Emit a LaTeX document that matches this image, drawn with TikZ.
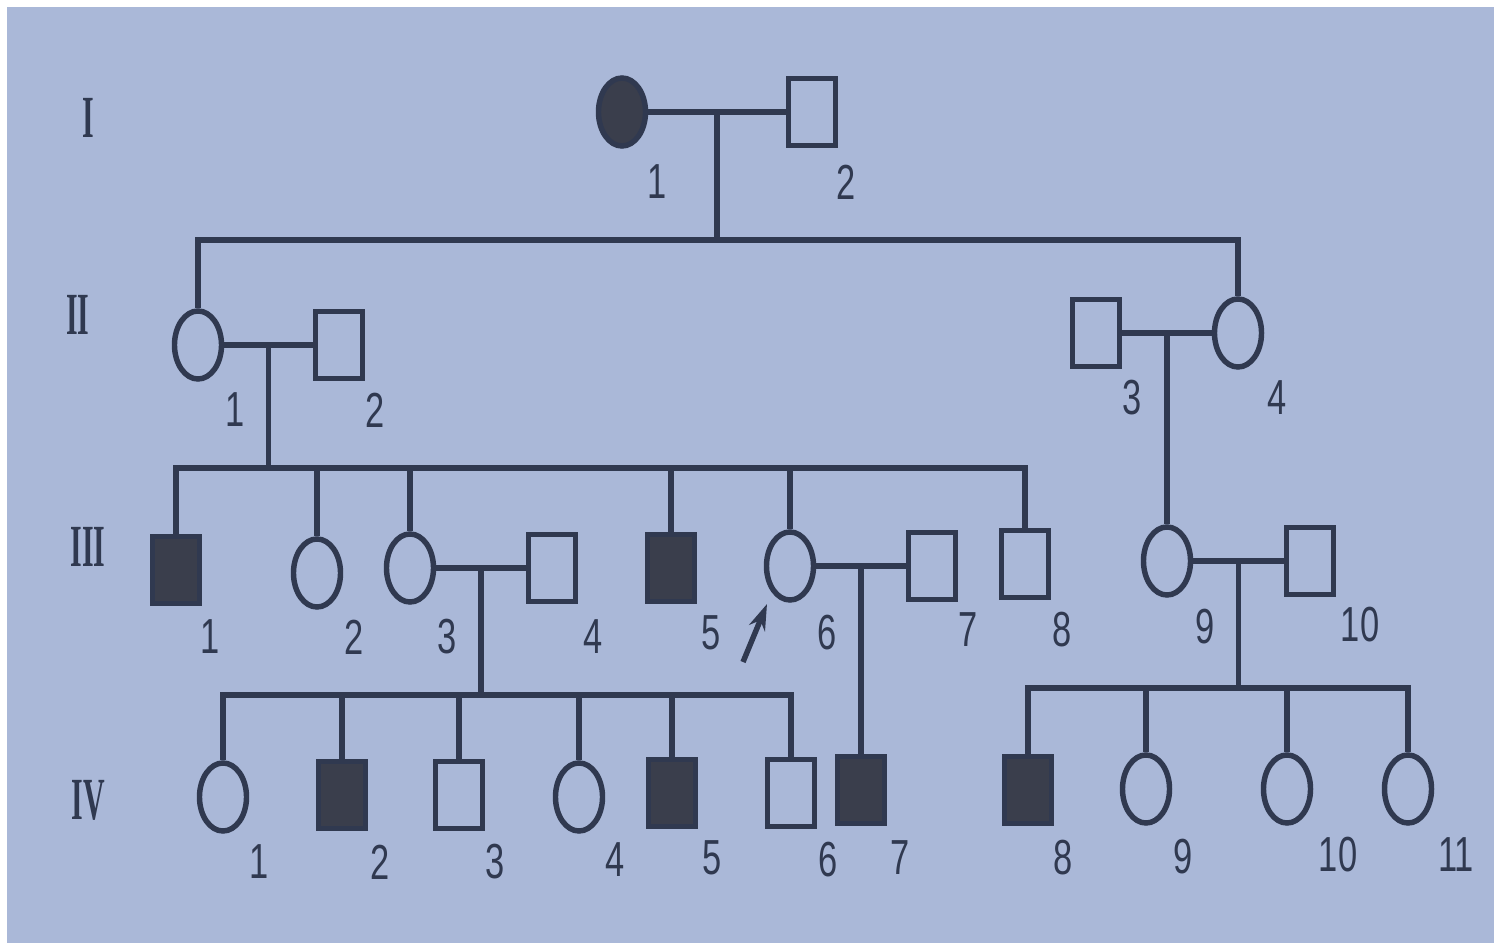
\documentclass[tikz,border=0pt]{standalone}
\usepackage{fontspec}
\usepackage{graphicx}
\setmainfont{Liberation Serif}
\setsansfont{Liberation Sans}
\usetikzlibrary{shapes.geometric,calc,arrows.meta}
\definecolor{bgblue}{RGB}{170,184,216}
\definecolor{ink}{RGB}{48,57,80}
\definecolor{inkfill}{RGB}{58,62,76}
\newcommand\narrowtxt[2]{\scalebox{#1}[1]{#2}}
\begin{document}
\begin{tikzpicture}[x=0.01cm,y=-0.01cm,
  line/.style={draw=ink, line width=1.55pt},
  female/.style={ellipse, draw=ink, line width=1.55pt, minimum width=0.47cm, minimum height=0.68cm, inner sep=0pt},
  male/.style={rectangle, draw=ink, line width=1.55pt, minimum width=0.47cm, minimum height=0.67cm, inner sep=0pt},
  affected/.style={fill=inkfill},
  idlabel/.style={font=\sffamily\fontsize{14}{14}\selectfont, text=ink, inner sep=0pt},
  genlabel/.style={font=\bfseries\fontsize{17}{17}\selectfont, text=ink, inner sep=0pt}]
\useasboundingbox (0,0) rectangle (1494,943);
\fill[white] (0,0) rectangle (1494,943);
\fill[bgblue] (7,7) rectangle (1494,943);

% generation labels
\node[genlabel] (gI) at (88,118) {\narrowtxt{0.5}{I}};
\node[genlabel] (gII) at (78,315) {\narrowtxt{0.5}{II}};
\node[genlabel] (gIII) at (88,547) {\narrowtxt{0.5}{III}};
\node[genlabel] (gIV) at (88,800) {\narrowtxt{0.5}{IV}};

% Generation I
\node[female,affected] (I1) at (622,112) {};
\node[male] (I2) at (812,112) {};
% Generation II
\node[female] (II1) at (198,345) {};
\node[male] (II2) at (339,345) {};
\node[male] (II3) at (1096,333) {};
\node[female] (II4) at (1238,333) {};
% Generation III
\node[male,affected] (III1) at (176,570) {};
\node[female] (III2) at (317,573) {};
\node[female] (III3) at (410,568) {};
\node[male] (III4) at (552,568) {};
\node[male,affected] (III5) at (671,568) {};
\node[female] (III6) at (790,566) {};
\node[male] (III7) at (932,566) {};
\node[male] (III8) at (1025,564) {};
\node[female] (III9) at (1167,561) {};
\node[male] (III10) at (1310,561) {};
% Generation IV
\node[female] (IV1) at (223,797) {};
\node[male,affected] (IV2) at (342,795) {};
\node[male] (IV3) at (459,795) {};
\node[female] (IV4) at (579,797) {};
\node[male,affected] (IV5) at (672,793) {};
\node[male] (IV6) at (791,793) {};
\node[male,affected] (IV7) at (861,790) {};
\node[male,affected] (IV8) at (1028,790) {};
\node[female] (IV9) at (1146,789) {};
\node[female] (IV10) at (1287,789) {};
\node[female] (IV11) at (1408,789) {};

% row coordinates
\coordinate (rowI) at (0,240);
\coordinate (rowII) at (0,468);
\coordinate (rowIIIa) at (0,695);
\coordinate (rowIIIb) at (0,688);

% marriages and descents
\draw[line] (I1.east) -- (I2.west);
\coordinate (mI) at ($(I1.east)!0.5!(I2.west)$);
\draw[line] (mI) -- (mI |- rowI);
\draw[line] (II1.north) |- (II4.north |- rowI) -- (II4.north);

\draw[line] (II1.east) -- (II2.west);
\coordinate (mII) at ($(II1.east)!0.5!(II2.west)$);
\draw[line] (mII) -- (mII |- rowII);
\draw[line] (III1.north) |- (III8.north |- rowII) -- (III8.north);
\foreach \n in {III2,III3,III5,III6} \draw[line] (\n.north) -- (\n.north |- rowII);

\draw[line] (II3.east) -- (II4.west);
\coordinate (mIIb) at ($(II3.east)!0.5!(II4.west)$);
\draw[line] (mIIb) -- (mIIb |- III9.north);

\draw[line] (III3.east) -- (III4.west);
\coordinate (mIIIa) at ($(III3.east)!0.5!(III4.west)$);
\draw[line] (mIIIa) -- (mIIIa |- rowIIIa);
\draw[line] (IV1.north) |- (IV6.north |- rowIIIa) -- (IV6.north);
\foreach \n in {IV2,IV3,IV4,IV5} \draw[line] (\n.north) -- (\n.north |- rowIIIa);

\draw[line] (III6.east) -- (III7.west);
\coordinate (mIIIb) at ($(III6.east)!0.5!(III7.west)$);
\draw[line] (mIIIb) -- (mIIIb |- IV7.north);

\draw[line] (III9.east) -- (III10.west);
\coordinate (mIIIc) at ($(III9.east)!0.5!(III10.west)$);
\draw[line] (mIIIc) -- (mIIIc |- rowIIIb);
\draw[line] (IV8.north) |- (IV11.north |- rowIIIb) -- (IV11.north);
\foreach \n in {IV9,IV10} \draw[line] (\n.north) -- (\n.north |- rowIIIb);

% proband arrow
\coordinate (pa) at (743,662);
\coordinate (pb) at (767,604);
\draw[line,-{Stealth[length=0.26cm,width=0.17cm]}] (pa) -- (pb);

% individual numbers
\node[idlabel] (lI1) at (657,182) {\narrowtxt{0.7}{1}};
\node[idlabel] (lI2) at (846,182) {\narrowtxt{0.7}{2}};
\node[idlabel] (lII1) at (235,410) {\narrowtxt{0.7}{1}};
\node[idlabel] (lII2) at (375,410) {\narrowtxt{0.7}{2}};
\node[idlabel] (lII3) at (1132,398) {\narrowtxt{0.7}{3}};
\node[idlabel] (lII4) at (1277,398) {\narrowtxt{0.7}{4}};
\node[idlabel] (lIII1) at (210,637) {\narrowtxt{0.7}{1}};
\node[idlabel] (lIII2) at (354,637) {\narrowtxt{0.7}{2}};
\node[idlabel] (lIII3) at (447,637) {\narrowtxt{0.7}{3}};
\node[idlabel] (lIII4) at (593,637) {\narrowtxt{0.7}{4}};
\node[idlabel] (lIII5) at (711,633) {\narrowtxt{0.7}{5}};
\node[idlabel] (lIII6) at (827,633) {\narrowtxt{0.7}{6}};
\node[idlabel] (lIII7) at (968,630) {\narrowtxt{0.7}{7}};
\node[idlabel] (lIII8) at (1062,630) {\narrowtxt{0.7}{8}};
\node[idlabel] (lIII9) at (1205,627) {\narrowtxt{0.7}{9}};
\node[idlabel] (lIII10) at (1360,625) {\narrowtxt{0.7}{10}};
\node[idlabel] (lIV1) at (259,862) {\narrowtxt{0.7}{1}};
\node[idlabel] (lIV2) at (380,862) {\narrowtxt{0.7}{2}};
\node[idlabel] (lIV3) at (495,862) {\narrowtxt{0.7}{3}};
\node[idlabel] (lIV4) at (615,860) {\narrowtxt{0.7}{4}};
\node[idlabel] (lIV5) at (712,858) {\narrowtxt{0.7}{5}};
\node[idlabel] (lIV6) at (828,860) {\narrowtxt{0.7}{6}};
\node[idlabel] (lIV7) at (900,858) {\narrowtxt{0.7}{7}};
\node[idlabel] (lIV8) at (1063,858) {\narrowtxt{0.7}{8}};
\node[idlabel] (lIV9) at (1183,857) {\narrowtxt{0.7}{9}};
\node[idlabel] (lIV10) at (1338,855) {\narrowtxt{0.7}{10}};
\node[idlabel] (lIV11) at (1456,855) {\narrowtxt{0.7}{11}};
\end{tikzpicture}
\end{document}
